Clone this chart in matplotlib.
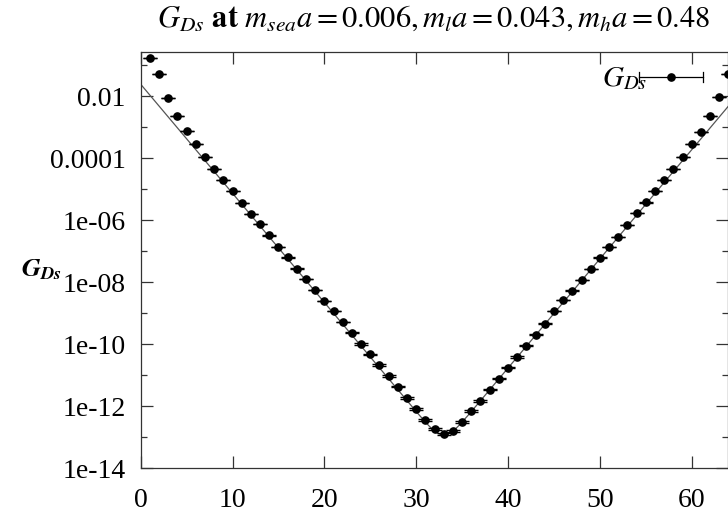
import numpy as np
import matplotlib
matplotlib.use("Agg")
import matplotlib.pyplot as plt
from matplotlib.ticker import FixedLocator, FixedFormatter, NullFormatter

# Euclidean time slices and correlator values
t = list(range(1, 65))
G_Ds = [
    1.73e-1, 5.14e-2, 8.85e-3, 2.33e-3, 7.48e-4, 2.85e-4, 1.11e-4, 4.46e-5,
    1.97e-5, 8.69e-6, 3.65e-6, 1.61e-6, 7.52e-7, 3.24e-7, 1.39e-7, 6.34e-8,
    2.76e-8, 1.27e-8, 5.60e-9, 2.47e-9, 1.18e-9, 5.20e-10, 2.35e-10, 1.02e-10,
    4.67e-11, 2.14e-11, 9.46e-12, 4.28e-12, 1.85e-12, 8.17e-13, 3.61e-13, 1.89e-13,
    1.25e-13, 1.63e-13, 3.11e-13, 7.03e-13, 1.48e-12, 3.42e-12, 7.73e-12, 1.75e-11,
    3.87e-11, 8.95e-11, 2.03e-10, 4.59e-10, 1.18e-9, 2.67e-9, 5.31e-9, 1.17e-8,
    2.66e-8, 6.15e-8, 1.39e-7, 2.92e-7, 6.97e-7, 1.66e-6, 3.71e-6, 8.69e-6,
    1.97e-5, 4.46e-5, 1.06e-4, 2.79e-4, 6.79e-4, 2.33e-3, 9.12e-3, 5.14e-2,
]
# relative statistical errors
rel_err = [
    0.005, 0.005, 0.005, 0.005, 0.006, 0.006, 0.007, 0.008,
    0.009, 0.010, 0.011, 0.012, 0.013, 0.015, 0.017, 0.019,
    0.021, 0.023, 0.025, 0.028, 0.031, 0.034, 0.037, 0.040,
    0.043, 0.046, 0.049, 0.052, 0.055, 0.058, 0.060, 0.062,
    0.063, 0.062, 0.060, 0.058, 0.055, 0.052, 0.049, 0.046,
    0.043, 0.040, 0.037, 0.034, 0.031, 0.028, 0.025, 0.023,
    0.021, 0.019, 0.017, 0.015, 0.013, 0.012, 0.011, 0.010,
    0.009, 0.008, 0.007, 0.006, 0.006, 0.005, 0.005, 0.005,
]

# single-exponential cosh fit: A * (exp(-m t) + exp(-m (T - t)))
fit_amp = 10 ** -1.62
fit_mass = 0.810
fit_T = 66.0

y_ticks = [1e-14, 1e-12, 1e-10, 1e-8, 1e-6, 1e-4, 1e-2]
y_tick_labels = ["1e-14", "1e-12", "1e-10", "1e-08", "1e-06", "0.0001", "0.01"]
y_minor = [1e-13, 1e-11, 1e-9, 1e-7, 1e-5, 1e-3, 1e-1]
x_ticks = [0, 10, 20, 30, 40, 50, 60]

plt.rcParams["font.family"] = ["Liberation Serif", "DejaVu Serif"]
plt.rcParams["mathtext.fontset"] = "stix"

FS = 20

fig = plt.figure(figsize=(7.28, 5.13), dpi=100)
ax = fig.add_axes([0.1933, 0.0871, 0.8073, 0.8109])

tt = np.linspace(0, 64, 400)
fit = fit_amp * (np.exp(-fit_mass * tt) + np.exp(-fit_mass * (fit_T - tt)))
ax.plot(tt, fit, color="#555555", lw=0.9, zorder=2)

G = np.array(G_Ds)
err = G * np.array(rel_err)
ax.errorbar(t, G, yerr=err, fmt="o", color="black", ms=5.2,
            elinewidth=0.8, capsize=4.7, capthick=1.0, zorder=3, clip_on=True)

ax.set_yscale("log")
ax.set_xlim(0, 64)
ax.set_ylim(1e-14, 10 ** -0.59)

ax.xaxis.set_major_locator(FixedLocator(x_ticks))
ax.yaxis.set_major_locator(FixedLocator(y_ticks))
ax.yaxis.set_major_formatter(FixedFormatter(y_tick_labels))
ax.yaxis.set_minor_locator(FixedLocator(y_minor))
ax.yaxis.set_minor_formatter(NullFormatter())
ax.tick_params(which="both", direction="in", top=True, right=True,
               labelsize=FS, color="#333333")
ax.tick_params(axis="y", which="major", length=8.5, width=0.9, pad=11)
ax.tick_params(axis="x", which="major", length=8.5, width=0.9, pad=14)
ax.tick_params(which="minor", length=4.3, width=0.9)
for s in ax.spines.values():
    s.set_linewidth(0.9)
    s.set_color("#333333")

fig.text(0.596, 0.962, r"$G_{Ds}$ $\mathbf{at}$ $m_{sea}a = 0.006, m_l a = 0.043, m_h a = 0.48$",
         ha="center", va="center", fontsize=22)
fig.text(0.057, 0.474, r"$\mathbfit{G}_{\mathbfit{Ds}}$", ha="center", va="center", fontsize=19)

# key entry
ky = 0.9406
ax.text(0.862, ky - 0.005, r"$G_{Ds}$", transform=ax.transAxes, ha="right", va="center", fontsize=21)
ax.plot([0.848, 0.957], [ky, ky], transform=ax.transAxes, color="black", lw=0.9, clip_on=False)
for xe in (0.848, 0.957):
    ax.plot([xe, xe], [ky - 0.012, ky + 0.012], transform=ax.transAxes, color="black", lw=0.9)
ax.plot([0.902], [ky], "o", transform=ax.transAxes, color="black", ms=5.2)

fig.savefig("out.png", dpi=100)
